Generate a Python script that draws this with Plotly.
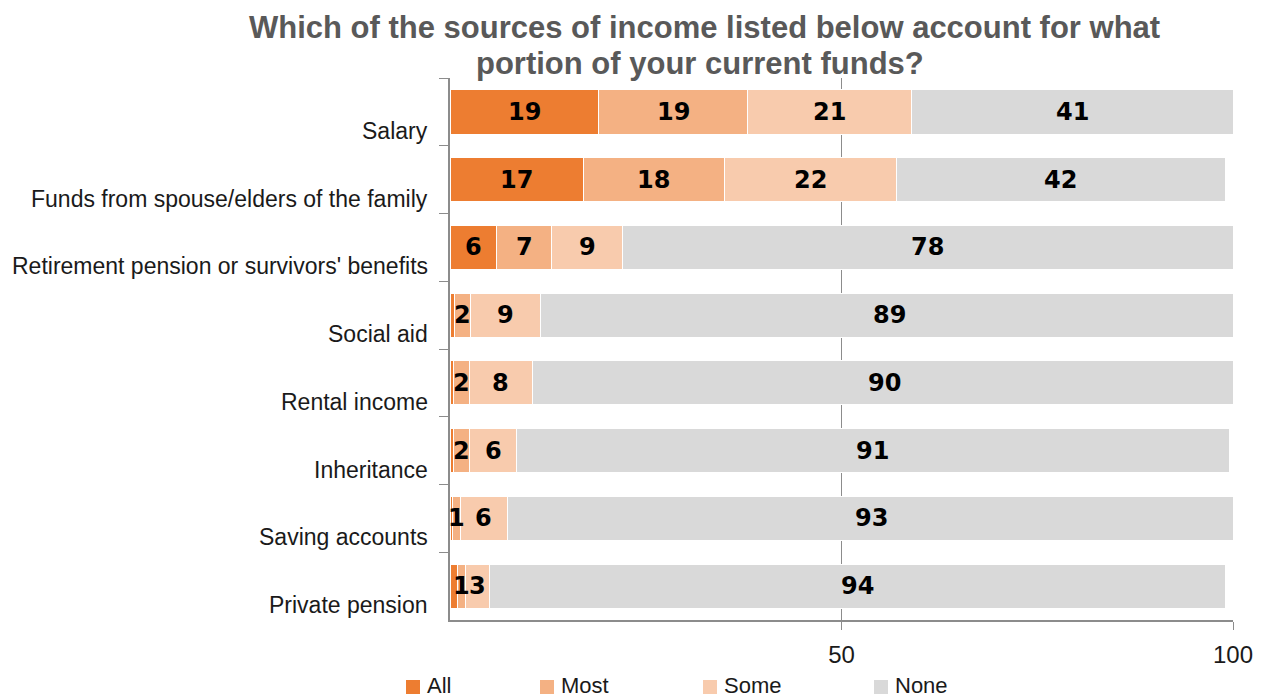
import plotly.graph_objects as go

# Survey answers, share of respondents (%)
sources = [
    "Salary",
    "Funds from spouse/elders of the family",
    "Retirement pension or survivors' benefits",
    "Social aid",
    "Rental income",
    "Inheritance",
    "Saving accounts",
    "Private pension",
]
share_all = [19, 17, 6, 0.6, 0.5, 0.5, 0.3, 1]
share_most = [19, 18, 7, 2, 2, 2, 1, 1]
share_some = [21, 22, 9, 9, 8, 6, 6, 3]
share_none = [41, 42, 78, 89, 90, 91, 93, 94]

# which segments carry a printed value
label_all = [True, True, True, False, False, False, False, False]
label_rest = [True] * len(sources)

series = [
    ("All", share_all, "#ED7D31", label_all),
    ("Most", share_most, "#F4B183", label_rest),
    ("Some", share_some, "#F8CBAD", label_rest),
    ("None", share_none, "#D9D9D9", label_rest),
]

x_ticks = [50, 100]

title_lines = [
    "Which of the sources of income listed below account for what",
    "portion of your current funds?",
]

# figure geometry (pixels)
W, H = 1270, 700
ML, MR, MT, MB = 450, 37, 78, 80
PW, PH = W - ML - MR, H - MT - MB


def px_x(px):
    return (px - ML) / PW


def px_y(py):
    return (H - MB - py) / PH


fig = go.Figure()
for name, vals, color, show in series:
    fig.add_trace(go.Bar(
        y=sources, x=vals, name=name, orientation="h",
        marker=dict(color=color, line=dict(color="white", width=1)),
        textposition="none", showlegend=False,
    ))

# value labels centred in each segment
offset = [0.0] * len(sources)
for name, vals, color, show in series:
    for i, v in enumerate(vals):
        if show[i]:
            fig.add_annotation(
                x=offset[i] + v / 2, y=sources[i], text=f"{v:g}",
                showarrow=False, xref="x", yref="y",
                font=dict(family="DejaVu Sans", size=24, color="black", weight="bold"),
            )
        offset[i] += v

# category names sit low against each bar
for s in sources:
    fig.add_annotation(
        x=0, y=s, xref="paper", yref="y", text=s, showarrow=False,
        xanchor="right", yanchor="middle", xshift=-20, yshift=-19,
        font=dict(family="Liberation Sans, Arial, sans-serif", size=23, color="#1a1a1a"),
    )

# two-line heading
for line, cx, cy in zip(title_lines, [704, 700], [28, 64]):
    fig.add_annotation(
        x=px_x(cx), y=px_y(cy), xref="paper", yref="paper", text=line,
        showarrow=False, xanchor="center", yanchor="middle",
        font=dict(family="Liberation Sans, Arial, sans-serif", size=31,
                  color="#595959", weight="bold"),
    )

# key along the bottom edge
legend_x = [406, 540, 703, 874]
legend_y = 686
for (name, vals, color, show), lx in zip(series, legend_x):
    fig.add_shape(
        type="rect", xref="paper", yref="paper",
        x0=px_x(lx), x1=px_x(lx + 14), y0=px_y(legend_y - 6), y1=px_y(legend_y + 8),
        fillcolor=color, line=dict(width=0),
    )
    fig.add_annotation(
        x=px_x(lx + 19), y=px_y(legend_y - 1), xref="paper", yref="paper", text=name,
        showarrow=False, xanchor="left", yanchor="middle",
        font=dict(family="Liberation Sans, Arial, sans-serif", size=22, color="#1a1a1a"),
    )

fig.update_layout(
    width=W, height=H,
    barmode="stack", bargap=0.35,
    plot_bgcolor="white", paper_bgcolor="white",
    margin=dict(l=ML, r=MR, t=MT, b=MB),
    showlegend=False,
    xaxis=dict(
        range=[0, 100], tickvals=x_ticks, ticktext=[str(t) for t in x_ticks],
        showgrid=True, gridcolor="#8c8c8c", gridwidth=1, zeroline=False,
        showline=True, linecolor="#8c8c8c", linewidth=1.5,
        ticks="outside", ticklen=8, tickcolor="#8c8c8c", ticklabelstandoff=4,
        tickfont=dict(family="Liberation Sans, Arial, sans-serif", size=24, color="#1a1a1a"),
    ),
    yaxis=dict(
        categoryorder="array", categoryarray=sources, autorange="reversed",
        showticklabels=False, tickson="boundaries", ticks="outside", ticklen=9,
        tickcolor="#8c8c8c", showline=True, linecolor="#8c8c8c", linewidth=2,
        showgrid=False, zeroline=False,
    ),
)

fig.write_html("out.html")
